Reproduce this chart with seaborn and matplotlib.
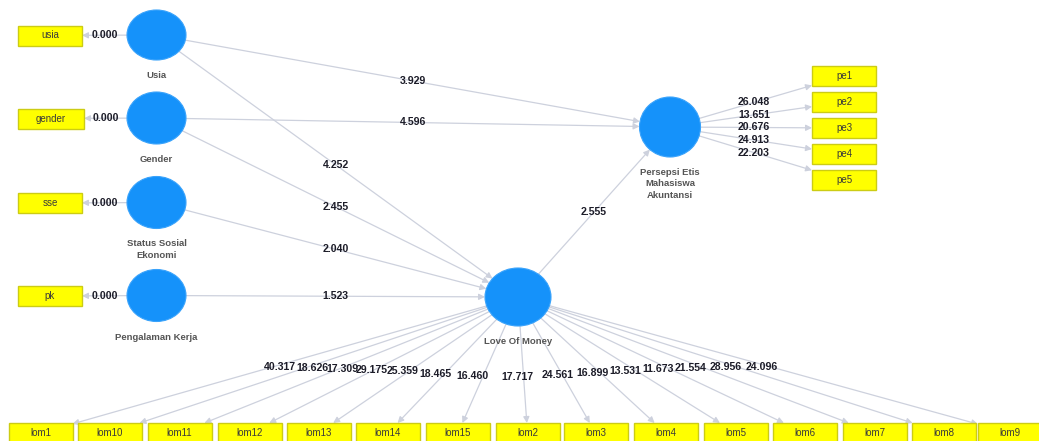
import numpy as np
import matplotlib
matplotlib.use("Agg")
import matplotlib.pyplot as plt
from matplotlib.patches import Ellipse, Rectangle
import seaborn as sns

# constructs and indicators
latents = ["Usia", "Gender", "Status Sosial\nEkonomi", "Pengalaman Kerja",
           "Persepsi Etis\nMahasiswa\nAkuntansi", "Love Of Money"]
single_items = ["usia", "gender", "sse", "pk"]
single_tvals = [0.000, 0.000, 0.000, 0.000]
pe_items = ["pe1", "pe2", "pe3", "pe4", "pe5"]
pe_tvals = [26.048, 13.651, 20.676, 24.913, 22.203]
lom_items = ["lom1", "lom10", "lom11", "lom12", "lom13", "lom14", "lom15",
             "lom2", "lom3", "lom4", "lom5", "lom6", "lom7", "lom8", "lom9"]
lom_tvals = [40.317, 18.626, 17.309, 29.175, 25.359, 18.465, 16.460,
             17.717, 24.561, 16.899, 13.531, 11.673, 21.554, 28.956, 24.096]
# structural paths (from, to, t value)
path_from = ["Usia", "Gender", "Usia", "Gender", "Status Sosial\nEkonomi",
             "Pengalaman Kerja", "Love Of Money"]
path_to = ["Persepsi Etis\nMahasiswa\nAkuntansi"] * 2 + ["Love Of Money"] * 4 + \
          ["Persepsi Etis\nMahasiswa\nAkuntansi"]
path_tvals = [3.929, 4.596, 4.252, 2.455, 2.040, 1.523, 2.555]

# layout (pixel space)
node_pos = {
    "Usia": (156.5, 35, 29.5, 25),
    "Gender": (156.5, 118, 29.5, 26),
    "Status Sosial\nEkonomi": (156.5, 202.5, 29.5, 26),
    "Pengalaman Kerja": (156.5, 295.5, 29.5, 26),
    "Persepsi Etis\nMahasiswa\nAkuntansi": (670, 127, 30.5, 30),
    "Love Of Money": (518, 297, 33, 29),
}
left_box_x = [50, 51, 50, 50]
left_box_w = [64, 66, 64, 64]
pe_box_y = [76, 102, 128, 154, 180]
lom_box_x = [40.5, 109.5, 179.5, 249.5, 318.5, 388, 458, 527.5, 595.5,
             665.5, 736, 805, 875, 944, 1010]
# small horizontal nudges of the loading labels, as the layout engine did
lom_label_dx = [0, -1, -4, -8, -10, -12, -12, -6, -4, -5, -7, -7, -8, -5, -2]
BOX_H = 20

sns.set_theme(style="white")
plt.rcParams["font.family"] = ["Liberation Sans", "DejaVu Sans"]

LINE = "#cdd1dd"
BLUE = "#1592fa"
YEL = "#ffff00"
YEL_EDGE = "#cccc14"
NUM = "#1c1c28"

fig = plt.figure(figsize=(10.39, 4.41), dpi=100)
ax = fig.add_axes([0, 0, 1, 1])
ax.set_xlim(0, 1039)
ax.set_ylim(441, 0)
ax.axis("off")


def ell_edge(node, tx, ty):
    cx, cy, rx, ry = node
    dx, dy = tx - cx, ty - cy
    t = 1.0 / np.sqrt((dx / rx) ** 2 + (dy / ry) ** 2)
    return cx + t * dx, cy + t * dy


def box_edge(bx, by, w, h, sx, sy):
    dx, dy = sx - bx, sy - by
    t = min((w / 2) / abs(dx) if dx else 1e9, (h / 2) / abs(dy) if dy else 1e9)
    return bx + t * dx, by + t * dy


def arrow(p0, p1, label, dx=0, dy=0):
    ax.annotate("", xy=p1, xytext=p0,
                arrowprops=dict(arrowstyle="-|>", color=LINE, lw=0.9,
                                mutation_scale=9, shrinkA=0, shrinkB=0),
                zorder=1)
    mx, my = (p0[0] + p1[0]) / 2 + dx, (p0[1] + p1[1]) / 2 + dy
    ax.text(mx, my, f"{label:.3f}", ha="center", va="center", fontsize=7.6,
            fontweight="bold", color=NUM, zorder=5)


def draw_box(bx, by, w, name):
    ax.add_patch(Rectangle((bx - w / 2, by - BOX_H / 2), w, BOX_H, fc=YEL,
                           ec=YEL_EDGE, lw=1.0, zorder=3))
    ax.text(bx, by, name, ha="center", va="center", fontsize=7, color="#3a3a3a",
            zorder=4)


# structural paths
for f, t, v in zip(path_from, path_to, path_tvals):
    a, b = node_pos[f], node_pos[t]
    arrow(ell_edge(a, b[0], b[1]), ell_edge(b, a[0], a[1]), v)

# single item constructs
for i, (item, v) in enumerate(zip(single_items, single_tvals)):
    node = node_pos[latents[i]]
    bx, by, w = left_box_x[i], node[1] + 0.5, left_box_w[i]
    draw_box(bx, by, w, item)
    arrow(ell_edge(node, bx, by), box_edge(bx, by, w, BOX_H, node[0], node[1]), v)

# Persepsi indicators
pnode = node_pos[latents[4]]
for item, v, by in zip(pe_items, pe_tvals, pe_box_y):
    bx = 844
    draw_box(bx, by, 64, item)
    arrow(ell_edge(pnode, bx, by), box_edge(bx, by, 64, BOX_H, pnode[0], pnode[1]),
          v, dx=-2)

# Love of money indicators
lnode = node_pos[latents[5]]
for item, v, bx, ndx in zip(lom_items, lom_tvals, lom_box_x, lom_label_dx):
    by = 433
    draw_box(bx, by, 64, item)
    arrow(ell_edge(lnode, bx, by), box_edge(bx, by, 64, BOX_H, lnode[0], lnode[1]),
          v, dx=ndx, dy=2.5)

# latent circles and names
for name in latents:
    cx, cy, rx, ry = node_pos[name]
    ax.add_patch(Ellipse((cx, cy), 2 * rx, 2 * ry, fc=BLUE, ec="#3aa3fb",
                         lw=0.8, zorder=6))
    ax.text(cx, cy + ry + 11, name, ha="center", va="top", fontsize=6.8,
            fontweight="bold", color="#555555", linespacing=1.35, zorder=6)

fig.savefig("out.png", dpi=100, facecolor="white")
